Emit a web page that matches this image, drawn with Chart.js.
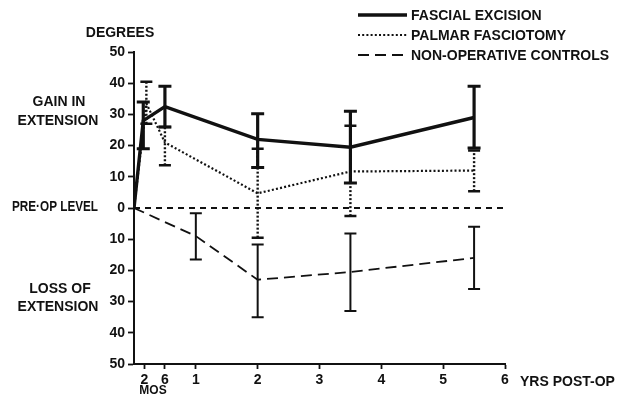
<!DOCTYPE html>
<html>
<head>
<meta charset="utf-8">
<script src="https://cdn.jsdelivr.net/npm/chart.js@4/dist/chart.umd.min.js"></script>
<style>
  html, body { margin: 0; padding: 0; background: #fff; }
  #wrap { width: 618px; height: 395px; position: relative; }
</style>
</head>
<body>
<div id="wrap"><canvas id="c" width="618" height="395"></canvas></div>
<script>
// ---- data (years post-op; degrees, gain positive / loss negative) ----
const seriesNames = ['FASCIAL EXCISION', 'PALMAR FASCIOTOMY', 'NON-OPERATIVE CONTROLS'];

const fascialX    = [0, 0.15, 0.5, 2, 3.5, 5.5];
const fascialMean = [0, 28, 32.5, 22, 19.5, 29];
const fascialLow  = [null, 19, 26, 13, 8, 19.2];
const fascialHigh = [null, 34, 39, 30.2, 31, 39];

const palmarX    = [0, 0.2, 0.5, 2, 3.5, 5.5];
const palmarMean = [0, 33.5, 21, 4.7, 11.7, 12];
const palmarLow  = [null, 27, 13.7, -9.5, -2.6, 5.4];
const palmarHigh = [null, 40.5, 26, 19, 26.4, 18.4];

const controlX    = [0, 1, 2, 3.5, 5.5];
const controlMean = [0, -9, -23, -20.5, -16];
const controlLow  = [null, -16.5, -35, -33, -26];
const controlHigh = [null, -1.7, -11.7, -8.2, -6];

const xTickValues = [0.167, 0.5, 1, 2, 3, 4, 5, 6];
const xTickLabels = ['2', '6', '1', '2', '3', '4', '5', '6'];
const yTickValues = [-50, -40, -30, -20, -10, 0, 10, 20, 30, 40, 50];
const yTickLabels = ['50', '40', '30', '20', '10', '0', '10', '20', '30', '40', '50'];

const INK = '#111';
const FONT = '"Liberation Sans", Arial, sans-serif';

function pts(xs, ys) { return xs.map((x, i) => ({ x: x, y: ys[i] })); }

const datasets = [
  { label: seriesNames[0], data: pts(fascialX, fascialMean), borderColor: INK, borderWidth: 3.4, borderDash: [],
    errLow: fascialLow, errHigh: fascialHigh, barWidth: 3.2, barDash: [], capWidth: 13, capLine: 3 },
  { label: seriesNames[1], data: pts(palmarX, palmarMean), borderColor: INK, borderWidth: 2.2, borderDash: [2, 2.2],
    errLow: palmarLow, errHigh: palmarHigh, barWidth: 2.4, barDash: [2, 2], capWidth: 12, capLine: 2.5 },
  { label: seriesNames[2], data: pts(controlX, controlMean), borderColor: INK, borderWidth: 1.8, borderDash: [11, 6],
    errLow: controlLow, errHigh: controlHigh, barWidth: 2, barDash: [], capWidth: 12, capLine: 2 }
];
datasets.forEach(d => { d.pointRadius = 0; d.tension = 0; d.fill = false; d.borderCapStyle = 'butt'; });

const zeroLinePlugin = {
  id: 'zeroLine',
  beforeDatasetsDraw(chart) {
    const { ctx, scales: { x, y } } = chart;
    const py = y.getPixelForValue(0);
    ctx.save();
    ctx.strokeStyle = INK; ctx.lineWidth = 1.8; ctx.setLineDash([6, 5]);
    ctx.beginPath(); ctx.moveTo(x.getPixelForValue(0), py); ctx.lineTo(x.getPixelForValue(6), py); ctx.stroke();
    ctx.restore();
  }
};

const errorBarPlugin = {
  id: 'errorBars',
  afterDatasetsDraw(chart) {
    const { ctx, scales: { x, y } } = chart;
    chart.data.datasets.forEach(ds => {
      ds.data.forEach((p, i) => {
        const lo = ds.errLow[i], hi = ds.errHigh[i];
        if (lo == null || hi == null) return;
        const px = x.getPixelForValue(p.x);
        const pl = y.getPixelForValue(lo), ph = y.getPixelForValue(hi);
        ctx.save();
        ctx.strokeStyle = INK;
        ctx.lineWidth = ds.barWidth; ctx.setLineDash(ds.barDash);
        ctx.beginPath(); ctx.moveTo(px, pl); ctx.lineTo(px, ph); ctx.stroke();
        ctx.setLineDash([]); ctx.lineWidth = ds.capLine;
        const hw = ds.capWidth / 2;
        ctx.beginPath();
        ctx.moveTo(px - hw, pl); ctx.lineTo(px + hw, pl);
        ctx.moveTo(px - hw, ph); ctx.lineTo(px + hw, ph);
        ctx.stroke();
        ctx.restore();
      });
    });
  }
};

const textPlugin = {
  id: 'texts',
  afterDraw(chart) {
    const { ctx } = chart;
    ctx.save();
    ctx.fillStyle = INK;
    ctx.font = 'bold 14px ' + FONT;
    ctx.textBaseline = 'middle';
    ctx.textAlign = 'center';
    ctx.fillText('DEGREES', 120, 33);
    ctx.fillText('GAIN IN', 59, 102);
    ctx.fillText('EXTENSION', 58, 121);
    ctx.fillText('LOSS OF', 60, 289);
    ctx.fillText('EXTENSION', 58, 307);
    ctx.fillText('PRE·OP LEVEL', 55, 207, 86);
    ctx.font = 'bold 12px ' + FONT;
    ctx.fillText('MOS', 153, 391);
    ctx.textAlign = 'left';
    ctx.font = 'bold 14px ' + FONT;
    ctx.fillText('YRS POST-OP', 520, 382);

    // legend
    const rows = [15, 35, 55];
    chart.data.datasets.forEach((ds, i) => {
      const ry = rows[i];
      ctx.strokeStyle = INK;
      ctx.lineWidth = ds.borderWidth;
      ctx.setLineDash(ds.borderDash);
      ctx.beginPath(); ctx.moveTo(358, ry); ctx.lineTo(407, ry); ctx.stroke();
      ctx.setLineDash([]);
      ctx.font = 'bold 14px ' + FONT;
      ctx.fillText(ds.label, 411, ry + 1);
    });
    ctx.restore();
  }
};

new Chart(document.getElementById('c'), {
  type: 'line',
  data: { datasets: datasets },
  options: {
    responsive: false,
    animation: false,
    events: [],
    layout: { padding: { left: 0, top: 52, right: 113, bottom: 0 } },
    plugins: { legend: { display: false }, tooltip: { enabled: false } },
    scales: {
      x: {
        type: 'linear', min: 0, max: 6,
        afterBuildTicks: s => { s.ticks = xTickValues.map(v => ({ value: v })); },
        afterFit: s => { s.height = 31; },
        ticks: {
          autoSkip: false, maxRotation: 0, padding: 3, color: INK,
          font: { family: FONT, size: 14, weight: 'bold' },
          callback: v => xTickLabels[xTickValues.indexOf(v)]
        },
        grid: { drawOnChartArea: false, drawTicks: true, tickLength: 5, tickWidth: 1.8, tickColor: INK },
        border: { display: true, color: INK, width: 2 }
      },
      y: {
        min: -50, max: 50,
        afterBuildTicks: s => { s.ticks = yTickValues.map(v => ({ value: v })); },
        afterFit: s => { s.width = 134; },
        ticks: {
          padding: 3, color: INK,
          font: { family: FONT, size: 14, weight: 'bold' },
          callback: v => yTickLabels[yTickValues.indexOf(v)]
        },
        grid: { drawOnChartArea: false, drawTicks: true, tickLength: 6, tickWidth: 1.8, tickColor: INK },
        border: { display: true, color: INK, width: 2 }
      }
    }
  },
  plugins: [zeroLinePlugin, errorBarPlugin, textPlugin]
});
</script>
</body>
</html>
